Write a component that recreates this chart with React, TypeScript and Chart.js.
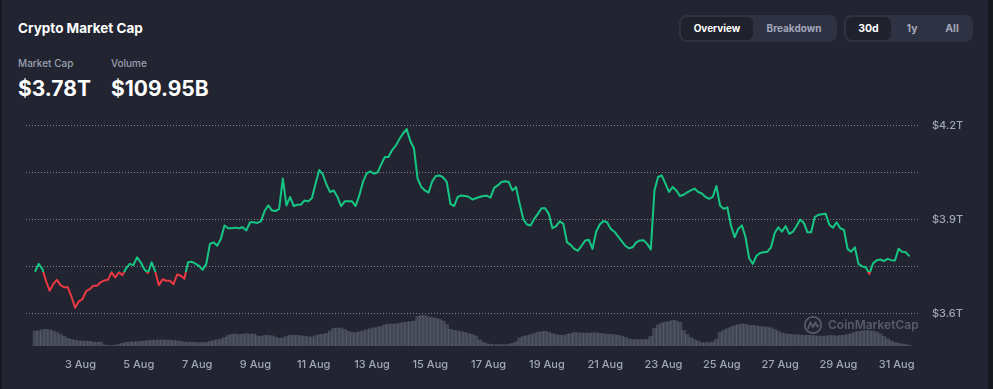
import React, { useEffect, useRef } from 'react';
import { Chart, registerables } from 'chart.js';

Chart.register(...registerables);

// Time axis: day-of-August as a number (3 = 3 Aug 00:00)
const START_DAY = 1.44; // first sample ~1 Aug 10:30
const STEP_DAYS = 0.125; // 3-hour samples
const X_MIN = 1.13;
const X_MAX = 31.8;

// Total crypto market cap, trillions USD
const capT = [
  3.733, 3.758, 3.742, 3.704, 3.672, 3.693, 3.707, 3.690, 3.683, 3.683,
  3.653, 3.618, 3.638, 3.645, 3.670, 3.677, 3.688, 3.688, 3.699, 3.705,
  3.707, 3.731, 3.715, 3.731, 3.722, 3.744, 3.758, 3.754, 3.779, 3.763,
  3.741, 3.729, 3.763, 3.733, 3.690, 3.709, 3.704, 3.704, 3.693, 3.724,
  3.720, 3.711, 3.763, 3.765, 3.759, 3.752, 3.739, 3.758, 3.822, 3.827,
  3.816, 3.838, 3.881, 3.872, 3.872, 3.874, 3.872, 3.875, 3.865, 3.891,
  3.891, 3.889, 3.894, 3.927, 3.945, 3.929, 3.927, 3.934, 4.031, 3.945,
  3.972, 3.943, 3.947, 3.948, 3.961, 3.958, 3.969, 4.015, 4.058, 4.044,
  4.011, 3.988, 3.993, 3.972, 3.943, 3.958, 3.958, 3.958, 3.943, 3.977,
  4.020, 4.047, 4.054, 4.047, 4.050, 4.076, 4.100, 4.100, 4.122, 4.136,
  4.157, 4.175, 4.189, 4.151, 4.127, 4.031, 4.004, 3.993, 3.986, 4.022,
  4.039, 4.041, 4.035, 4.020, 3.950, 3.943, 3.972, 3.977, 3.975, 3.973,
  3.964, 3.968, 3.972, 3.975, 3.976, 3.970, 4.001, 4.009, 4.020, 4.022,
  4.020, 3.993, 4.004, 3.950, 3.902, 3.884, 3.881, 3.902, 3.918, 3.936,
  3.936, 3.918, 3.872, 3.879, 3.894, 3.886, 3.827, 3.819, 3.806, 3.800,
  3.816, 3.833, 3.835, 3.806, 3.861, 3.884, 3.895, 3.891, 3.870, 3.861,
  3.846, 3.831, 3.816, 3.808, 3.811, 3.827, 3.833, 3.834, 3.822, 3.804,
  3.993, 4.036, 4.041, 4.015, 3.988, 4.004, 3.993, 3.975, 3.979, 3.987,
  3.993, 3.999, 3.988, 3.983, 3.972, 3.966, 3.972, 4.007, 3.945, 3.934,
  3.939, 3.881, 3.843, 3.870, 3.881, 3.843, 3.776, 3.758, 3.784, 3.793,
  3.795, 3.797, 3.811, 3.857, 3.875, 3.861, 3.879, 3.854, 3.861, 3.879,
  3.900, 3.889, 3.859, 3.859, 3.908, 3.915, 3.917, 3.918, 3.883, 3.874,
  3.891, 3.872, 3.867, 3.806, 3.797, 3.811, 3.758, 3.750, 3.747, 3.726,
  3.760, 3.770, 3.772, 3.767, 3.774, 3.770, 3.769, 3.806, 3.797, 3.795,
  3.782,
];

// Relative trading volume (same timestamps)
const volume = [
  15, 15.5, 16.5, 17, 16.5, 15.5, 14, 12, 10, 8,
  7, 6, 5.5, 5.2, 5, 5, 4.3, 4, 4.3, 1.5,
  0.8, 0.8, 1.2, 2, 3, 4, 4.3, 4.5, 4.7, 5,
  5.3, 5.7, 6, 6.2, 6.3, 6.3, 6.3, 6.1, 5.8, 5.4,
  5, 4.4, 4.2, 4, 3.8, 3.7, 3.7, 4, 5, 5.8,
  6.5, 7.3, 9, 11, 12, 12.3, 11.8, 12.2, 12.7, 12,
  12.5, 10.5, 10, 11, 11, 10.5, 9.3, 8, 8.5, 10,
  11, 11, 11, 10.6, 10.2, 9.5, 9.5, 10.8, 11.8, 12,
  13, 15.5, 18, 18.3, 18.3, 17, 15, 14, 13.7, 14.5,
  15.5, 16.5, 17.7, 18.5, 19.3, 20, 21.5, 22.2, 22.3, 22.3,
  23, 24, 24.2, 24.8, 25.3, 30, 31, 30.6, 29.5, 28.8,
  28, 27, 25.5, 22, 17, 16, 15.4, 14.8, 14, 12.7,
  12, 10.5, 6.5, 4, 2.7, 2, 1.7, 1.7, 1.7, 1.7,
  2.2, 3, 4.5, 8.5, 10, 10.8, 11.8, 12.8, 14.2, 14.6,
  15, 14, 12.8, 11.8, 11.3, 11, 12, 12.8, 13.8, 13.6,
  13.3, 13.3, 13.3, 13.5, 13.6, 13, 12.6, 12.2, 11.9, 11.7,
  11, 10.3, 9, 7.5, 6.8, 6.7, 6.7, 6.8, 7, 10,
  18, 21.5, 23.5, 24.2, 25, 26, 25.5, 24, 16, 12,
  8.8, 6.8, 5.3, 3.7, 3.7, 3.8, 4.5, 7, 14, 16.2,
  17.8, 19.3, 20.6, 21.7, 22.5, 22, 21, 21, 20.5, 20,
  19.3, 19.3, 18.5, 17, 15, 13.3, 12.5, 12.1, 11.9, 11.7,
  11.3, 11, 11, 11, 10.5, 10.3, 10.1, 10.3, 10.9, 10.8,
  10.3, 10.8, 11.3, 11.8, 12.8, 14, 15, 15.5, 15.9, 15.8,
  15.3, 14.3, 12.5, 10, 7.5, 5.5, 4, 3, 2.4, 1.8,
  1.1,
];

const xTickDays = [3, 5, 7, 9, 11, 13, 15, 17, 19, 21, 23, 25, 27, 29, 31];
const xTickMonth = 'Aug';
const yTicks = [3.6, 3.75, 3.9, 4.05, 4.2];
const yTickLabels = ['$3.6T', '', '$3.9T', '', '$4.2T'];

const GREEN = '#16c784';
const RED = '#ea3943';
const BG = '#222531';
const MUTED = '#a1a7bb';

export default function App() {
  const ref = useRef<HTMLCanvasElement>(null);

  useEffect(() => {
    const canvas = ref.current;
    if (!canvas) return;
    Chart.defaults.font.family = 'Inter, "Noto Sans", sans-serif';
    const base = capT[0];
    const times = capT.map((_, i) => START_DAY + i * STEP_DAYS);

    const lineColor = (ctx: any) => {
      const chart = ctx.chart;
      const { chartArea, scales } = chart;
      if (!chartArea || !scales.y) return GREEN;
      const yb = scales.y.getPixelForValue(base);
      const g = chart.ctx.createLinearGradient(0, chartArea.top, 0, chartArea.bottom);
      const r = Math.min(1, Math.max(0, (yb - chartArea.top) / (chartArea.bottom - chartArea.top)));
      g.addColorStop(0, GREEN);
      g.addColorStop(r, GREEN);
      g.addColorStop(r, RED);
      g.addColorStop(1, RED);
      return g;
    };

    const zeroPad = (s: any) => {
      s.paddingTop = 0;
      s.paddingBottom = 0;
      s.paddingLeft = 0;
      s.paddingRight = 0;
    };

    const chart = new Chart(canvas, {
      type: 'bar',
      data: {
        datasets: [
          {
            type: 'line',
            data: times.map((x, i) => ({ x, y: capT[i] })),
            yAxisID: 'y',
            borderWidth: 2,
            pointRadius: 0,
            tension: 0,
            borderColor: lineColor,
            borderJoinStyle: 'round',
            order: 0,
          } as any,
          {
            type: 'bar',
            data: times.map((x, i) => ({ x, y: volume[i] })),
            yAxisID: 'y2',
            backgroundColor: 'rgba(140,145,165,0.3)',
            borderWidth: 0,
            barPercentage: 1.25,
            categoryPercentage: 1,
            order: 1,
          } as any,
        ],
      },
      options: {
        responsive: false,
        maintainAspectRatio: false,
        animation: false,
        layout: { padding: { left: 26, right: 19, top: 11, bottom: 5 } },
        plugins: { legend: { display: false }, tooltip: { enabled: false } },
        scales: {
          x: {
            type: 'linear',
            min: X_MIN,
            max: X_MAX,
            offset: false,
            grid: { display: false, drawTicks: false },
            border: { display: false },
            afterBuildTicks: (s: any) => {
              s.ticks = xTickDays.map((v) => ({ value: v }));
            },
            afterFit: (s: any) => {
              s.height = 38;
              zeroPad(s);
            },
            ticks: {
              autoSkip: false,
              maxRotation: 0,
              padding: 12,
              color: MUTED,
              font: { size: 11, weight: 500 },
              callback: (v: any) => `${v} ${xTickMonth}`,
            },
          },
          y: {
            position: 'right',
            min: 3.4954,
            max: 4.215,
            grid: { color: '#7d8191', lineWidth: 1, drawTicks: false },
            border: { display: false, dash: [1, 2] },
            afterBuildTicks: (s: any) => {
              s.ticks = yTicks.map((v) => ({ value: v }));
            },
            afterFit: (s: any) => {
              s.width = 54;
              zeroPad(s);
            },
            ticks: {
              padding: 12,
              color: MUTED,
              font: { size: 11, weight: 500 },
              callback: (_v: any, idx: number) => yTickLabels[idx],
            },
          },
          y2: {
            display: false,
            min: 0,
            max: 225,
          },
        },
      } as any,
    });
    return () => chart.destroy();
  }, []);

  const abs = (s: React.CSSProperties): React.CSSProperties => ({ position: 'absolute', whiteSpace: 'nowrap', ...s });
  const font = 'Inter, "Noto Sans", sans-serif';

  return (
    <div style={{ position: 'relative', width: 993, height: 389, background: '#17181f', overflow: 'hidden', fontFamily: font }}>
      <style>{`body{margin:0;background:#17181f}`}</style>
      <div style={abs({ left: 2, top: 0, width: 986, height: 389, background: BG })} />

      <div style={abs({ left: 18, top: 22, fontSize: 13.5, lineHeight: '13.5px', fontWeight: 700, color: '#ffffff' })}>Crypto Market Cap</div>
      <div style={abs({ left: 18, top: 57.6, fontSize: 10, lineHeight: '10px', fontWeight: 500, color: '#9a9fb0' })}>Market Cap</div>
      <div style={abs({ left: 111, top: 57.6, fontSize: 10, lineHeight: '10px', fontWeight: 500, color: '#9a9fb0' })}>Volume</div>
      <div style={abs({ left: 18, top: 77.5, fontSize: 21, lineHeight: '21px', fontWeight: 700, color: '#ffffff' })}>$3.78T</div>
      <div style={abs({ left: 111, top: 77.5, fontSize: 21, lineHeight: '21px', fontWeight: 700, color: '#ffffff' })}>$109.95B</div>

      {/* toggle group 1 */}
      <div style={abs({ left: 679, top: 15, width: 158, height: 27, background: '#2f3242', borderRadius: 8 })} />
      <div style={abs({ left: 681, top: 17, width: 72, height: 23, background: '#1f212c', borderRadius: 6 })} />
      <div style={abs({ left: 681, top: 17, width: 72, height: 23, lineHeight: '23px', textAlign: 'center', fontSize: 10, fontWeight: 700, color: '#ffffff' })}>Overview</div>
      <div style={abs({ left: 753, top: 17, width: 82, height: 23, lineHeight: '23px', textAlign: 'center', fontSize: 10, fontWeight: 700, color: MUTED })}>Breakdown</div>

      {/* toggle group 2 */}
      <div style={abs({ left: 844, top: 15, width: 129, height: 27, background: '#2f3242', borderRadius: 8 })} />
      <div style={abs({ left: 846, top: 17, width: 45, height: 23, background: '#1f212c', borderRadius: 6 })} />
      <div style={abs({ left: 846, top: 17, width: 45, height: 23, lineHeight: '23px', textAlign: 'center', fontSize: 10.5, fontWeight: 700, color: '#ffffff' })}>30d</div>
      <div style={abs({ left: 892, top: 17, width: 40, height: 23, lineHeight: '23px', textAlign: 'center', fontSize: 10.5, fontWeight: 700, color: MUTED })}>1y</div>
      <div style={abs({ left: 932, top: 17, width: 40, height: 23, lineHeight: '23px', textAlign: 'center', fontSize: 10.5, fontWeight: 700, color: MUTED })}>All</div>

      <canvas ref={ref} width={993} height={279} style={{ position: 'absolute', left: 0, top: 110, width: 993, height: 279 }} />

      {/* watermark */}
      <svg style={{ position: 'absolute', left: 803, top: 315 }} width={20} height={20} viewBox="0 0 20 20">
        <circle cx={10} cy={10} r={8.2} fill="none" stroke="#575b69" strokeWidth={1.8} />
        <path d="M5.2 13.2 L7.4 7.2 L10 12 L12.6 7.2 L14.2 11.6 L15.6 10.6" fill="none" stroke="#575b69" strokeWidth={1.8} strokeLinejoin="round" strokeLinecap="round" />
      </svg>
      <div style={abs({ left: 828, top: 318, fontSize: 12, lineHeight: '14px', fontWeight: 600, color: '#575b69' })}>CoinMarketCap</div>
    </div>
  );
}
